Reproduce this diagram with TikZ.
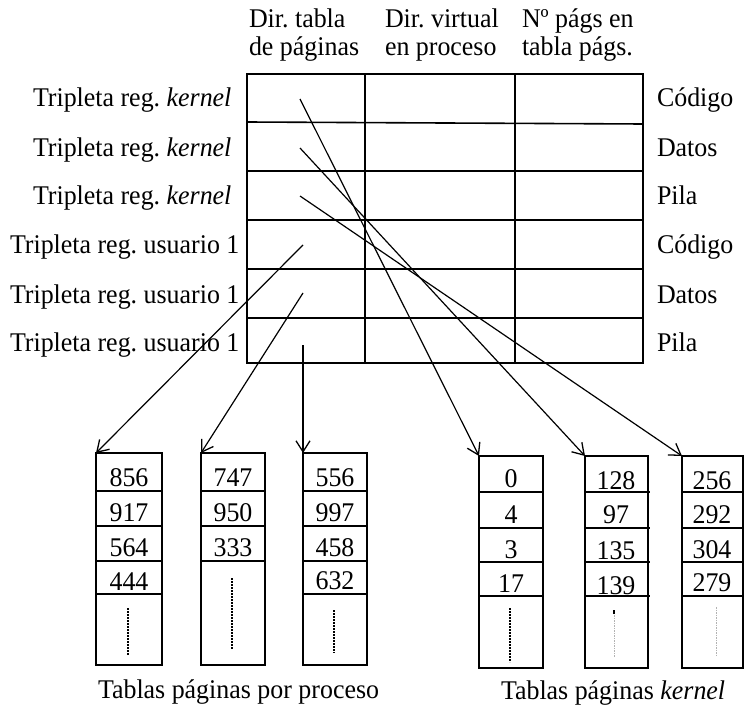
\documentclass[tikz,border=0pt]{standalone}
\usepackage{fontspec}
\setmainfont[FakeStretch=0.96]{Liberation Serif}
\usetikzlibrary{arrows.meta}

\begin{document}
\frenchspacing
\begin{tikzpicture}[x=1pt, y=-1pt,
  every node/.style={inner sep=0pt, outer sep=0pt, font=\fontsize{27}{28}\selectfont},
  rule/.style={line width=1.6pt},
  pagetab/.style={draw, line width=1.6pt, rectangle, anchor=north west, minimum height=212pt},
  link/.style={line width=1.2pt, -{Straight Barb[length=11pt,width=14pt,line width=1.3pt]}},
  gap/.style={line width=2.2pt, dash pattern=on 1.8pt off 1.2pt},
  faintgap/.style={line width=0.5pt, gray!60, dash pattern=on 1.5pt off 1pt},
  num/.style={anchor=base},
  rowlabel/.style={anchor=base west},
  head/.style={anchor=south west, align=left}
]
\useasboundingbox (0,0) rectangle (745,706);

% ---- column headings ----
\node[head] (h1) at (249,61) {Dir. tabla\\de páginas};
\node[head] (h2) at (385,61) {Dir. virtual\\en proceso};
\node[head] (h3) at (522,61) {Nº págs en\\tabla págs.};

% ---- register triplets table ----
\node[draw, rule, rectangle, anchor=north west, minimum width=396pt, minimum height=289pt] (regs) at (247,74) {};
\draw[rule] (247,122) -- (643,124);
\foreach \y in {171,220,269,318} \draw[rule] (247,\y) -- (643,\y);
\foreach \x in {365,515} \draw[rule] (\x,74) -- (\x,363);

% row labels
\node[rowlabel] (l1) at (33,107) {Tripleta reg. \textit{kernel}};
\node[rowlabel] (l2) at (33,157) {Tripleta reg. \textit{kernel}};
\node[rowlabel] (l3) at (33,205) {Tripleta reg. \textit{kernel}};
\node[rowlabel] (l4) at (10,253) {Tripleta reg. usuario 1};
\node[rowlabel] (l5) at (10,303) {Tripleta reg. usuario 1};
\node[rowlabel] (l6) at (10,351) {Tripleta reg. usuario 1};

\node[rowlabel] (r1) at (657,107) {Código};
\node[rowlabel] (r2) at (657,157) {Datos};
\node[rowlabel] (r3) at (657,205) {Pila};
\node[rowlabel] (r4) at (657,253) {Código};
\node[rowlabel] (r5) at (657,303) {Datos};
\node[rowlabel] (r6) at (657,351) {Pila};

% pointer origins inside the first column
\coordinate (k1) at (300,99);
\coordinate (k2) at (300,148);
\coordinate (k3) at (300,196);
\coordinate (u1) at (303,245);
\coordinate (u2) at (303,293);
\coordinate (u3) at (303,345);

% ---- per-process page tables ----
\node[pagetab, minimum width=66pt] (p1) at (96,453) {};
\node[pagetab, minimum width=64pt] (p2) at (201,453) {};
\node[pagetab, minimum width=64pt] (p3) at (303,453) {};
\foreach \y in {491,526,561,594} \draw[rule] (96,\y) -- (163,\y);
\foreach \y in {491,526,561} \draw[rule] (201,\y) -- (265,\y);
\foreach \y in {491,526,561,594} \draw[rule] (303,\y) -- (367,\y);

\node[num] (p1a) at (129,486) {856};
\node[num] (p1b) at (129,521) {917};
\node[num] (p1c) at (129,556) {564};
\node[num] (p1d) at (129,590) {444};
\node[num] (p2a) at (233,486) {747};
\node[num] (p2b) at (233,521) {950};
\node[num] (p2c) at (233,556) {333};
\node[num] (p3a) at (335,486) {556};
\node[num] (p3b) at (335,521) {997};
\node[num] (p3c) at (335,556) {458};
\node[num] (p3d) at (335,589) {632};

\draw[gap] (128,608) -- (128,655);
\draw[gap] (232,578) -- (232,649);
\draw[gap] (334,610) -- (334,653);

% ---- kernel page tables ----
\node[pagetab, minimum width=64pt] (t1) at (479,456) {};
\node[pagetab, minimum width=63pt] (t2) at (585,456) {};
\node[pagetab, minimum width=61pt] (t3) at (682,456) {};
\foreach \y in {492,528,562,596} {
  \draw[rule] (479,\y) -- (543,\y);
  \draw[rule] (585,\y) -- (650,\y);
  \draw[rule] (682,\y) -- (743,\y);
}

\node[num] (t1a) at (511,487) {0};
\node[num] (t1b) at (511,523) {4};
\node[num] (t1c) at (511,558) {3};
\node[num] (t1d) at (511,592) {17};
\node[num] (t2a) at (616,489) {128};
\node[num] (t2b) at (616,523) {97};
\node[num] (t2c) at (616,559) {135};
\node[num] (t2d) at (616,594) {139};
\node[num] (t3a) at (712,489) {256};
\node[num] (t3b) at (712,523) {292};
\node[num] (t3c) at (712,558) {304};
\node[num] (t3d) at (712,591) {279};

\draw[gap] (510,608) -- (510,662);
\draw[faintgap] (614,610) -- (614,657);
\draw[line width=1.8pt] (614,610) -- (614,614);
\draw[faintgap] (716,607) -- (716,655);

% ---- pointers ----
\draw[link] (k1) -- (t1.north west);
\draw[link] (k2) -- (t2.north west);
\draw[link] (k3) -- (t3.north west);
\draw[link] (u1) -- (p1.north west);
\draw[link] (u2) -- (p2.north west);
\draw[link] (u3) -- (p3.north west);

% ---- captions ----
\node[anchor=base west] (cap1) at (98,698) {Tablas páginas por proceso};
\node[anchor=base west] (cap2) at (501,699) {Tablas páginas \textit{kernel}};
\end{tikzpicture}
\end{document}
